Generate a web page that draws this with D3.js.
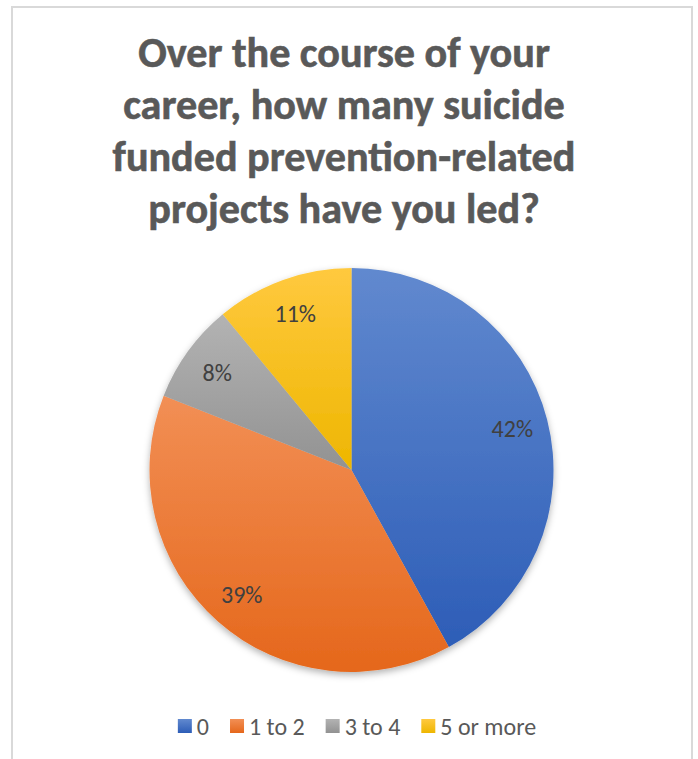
<!DOCTYPE html>
<html>
<head>
<meta charset="utf-8">
<script src="https://cdn.jsdelivr.net/npm/d3@7"></script>
<style>
  html, body { margin: 0; padding: 0; background: #fff; }
  svg { display: block; }
</style>
</head>
<body>
<svg id="chart" width="698" height="759"></svg>
<script>
// Survey responses: number of funded suicide prevention-related projects led
const titleLines = [
  "Over the course of your",
  "career, how many suicide",
  "funded prevention-related",
  "projects have you led?"
];
const categories = ["0", "1 to 2", "3 to 4", "5 or more"];
const shares = [42, 39, 8, 11];
const labels = ["42%", "39%", "8%", "11%"];
// top/bottom gradient colours per slice
const topColors = ["#6189CF", "#F28F55", "#B3B3B3", "#FFC93F"];
const bottomColors = ["#2D5DB7", "#E5671B", "#929292", "#EEB600"];

const W = 698, H = 759;
const FONT = "Carlito, Calibri, Lato, 'Open Sans', sans-serif";
const svg = d3.select("#chart");
const defs = svg.append("defs");

// chart frame
svg.append("rect")
  .attr("x", 12).attr("y", 7)
  .attr("width", 680).attr("height", 770)
  .attr("fill", "#fff")
  .attr("stroke", "#D9D9D9").attr("stroke-width", 2);

// title, fitted to the widest line
const title = svg.append("g");
const cx = 344;
const titleText = title.selectAll("text").data(titleLines).join("text")
  .attr("x", cx)
  .attr("y", (d, i) => 67 + i * 52)
  .attr("text-anchor", "middle")
  .attr("font-family", FONT)
  .attr("font-weight", "bold")
  .attr("font-size", 36)
  .attr("fill", "#595959")
  .attr("stroke", "#595959")
  .attr("stroke-width", 0.6)
  .text(d => d);
const widest = d3.max(titleText.nodes(), n => n.getComputedTextLength());
const titleSize = 36 * 463 / widest;
titleText.attr("font-size", titleSize);

// pie
const pcx = 351.5, pcy = 470, R = 202;
const pie = d3.pie().sort(null).value(d => d.v);
const data = pie(categories.map((c, i) => ({ c, v: shares[i], i })));
const arc = d3.arc().innerRadius(0).outerRadius(R);
const labelArc = d3.arc().innerRadius(166).outerRadius(166);

categories.forEach((c, i) => {
  const g = defs.append("linearGradient")
    .attr("id", "grad" + i)
    .attr("x1", 0).attr("y1", 0).attr("x2", 0).attr("y2", 1);
  g.append("stop").attr("offset", "0%").attr("stop-color", topColors[i]);
  g.append("stop").attr("offset", "100%").attr("stop-color", bottomColors[i]);
});

const shadow = defs.append("filter").attr("id", "pieShadow")
  .attr("x", "-10%").attr("y", "-10%").attr("width", "120%").attr("height", "125%");
shadow.append("feDropShadow")
  .attr("dx", 0).attr("dy", 3).attr("stdDeviation", 3.5)
  .attr("flood-color", "#000").attr("flood-opacity", 0.3);

const pg = svg.append("g").attr("transform", `translate(${pcx},${pcy})`);
pg.append("g").attr("filter", "url(#pieShadow)")
  .selectAll("path").data(data).join("path")
  .attr("d", arc)
  .attr("fill", d => `url(#grad${d.data.i})`)
  .attr("stroke", "none");

pg.selectAll("text.lbl").data(data).join("text")
  .attr("class", "lbl")
  .attr("transform", d => `translate(${labelArc.centroid(d)})`)
  .attr("text-anchor", "middle")
  .attr("dy", "0.36em")
  .attr("font-family", FONT)
  .attr("font-size", 24)
  .attr("fill", "#404040")
  .text((d, i) => labels[i]);

// legend
const legend = svg.append("g").attr("transform", "translate(0,726)");
const sw = 14, gap = 5, spacing = 21;
const items = legend.selectAll("g").data(categories).join("g");
items.append("rect")
  .attr("y", -sw / 2).attr("width", sw).attr("height", sw)
  .attr("fill", (d, i) => `url(#grad${i})`);
items.append("text")
  .attr("x", sw + gap)
  .attr("dy", "0.36em")
  .attr("font-family", FONT)
  .attr("font-size", 24)
  .attr("fill", "#595959")
  .text(d => d);
const widths = items.nodes().map(n => sw + gap + n.querySelector("text").getComputedTextLength());
const total = d3.sum(widths) + spacing * (widths.length - 1);
let x = 357 - total / 2;
items.each(function (d, i) {
  d3.select(this).attr("transform", `translate(${x},0)`);
  x += widths[i] + spacing;
});
</script>
</body>
</html>
